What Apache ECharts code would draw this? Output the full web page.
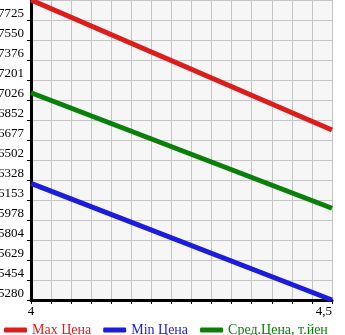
<!DOCTYPE html>
<html>
<head>
<meta charset="UTF-8">
<script src="https://cdn.jsdelivr.net/npm/echarts@6/dist/echarts.min.js"></script>
<style>html,body{margin:0;padding:0;background:#fff}#main{width:345px;height:335px}</style>
</head>
<body>
<div id="main"></div>
<script>
// data
var xValues = [4, 4.5];
var maxPrice = [7900, 6765];
var minPrice = [6299, 5280];
var avgPrice = [7090, 6081];
var seriesNames = ['Max Цена', 'Min Цена', 'Сред.Цена, т.йен'];
var seriesColors = ['#dd1c1c', '#1c1cdd', '#0a800a'];
var yTickLabels = ['5280', '5454', '5629', '5804', '5978', '6153', '6328', '6502',
  '6677', '6852', '7026', '7201', '7376', '7550', '7725'];
var xTickLabels = {'4': '4', '4.5': '4,5'};

var yMin = 5280, yMax = 7900;

function pairs(vals) {
  var out = [];
  for (var i = 0; i < xValues.length; i++) out.push([xValues[i], vals[i]]);
  return out;
}

var font = '"Liberation Serif", "DejaVu Serif", serif';
var allSeries = [maxPrice, minPrice, avgPrice].map(function (vals, i) {
  return {
    name: seriesNames[i],
    type: 'line',
    data: pairs(vals),
    symbol: 'none',
    clip: true,
    lineStyle: { color: seriesColors[i], width: 5 },
    itemStyle: { color: seriesColors[i] }
  };
});

var option = {
  animation: false,
  grid: {
    left: 31, right: 13, top: 0, bottom: 35,
    outerBoundsMode: 'none',
    containLabel: false,
    show: true, backgroundColor: '#f6f6f6', borderWidth: 0
  },
  legend: {
    left: -1, top: 318,
    icon: 'roundRect',
    itemWidth: 23, itemHeight: 5,
    itemGap: 12,
    data: seriesNames.map(function (n, i) {
      return { name: n, textStyle: { color: seriesColors[i] } };
    }),
    textStyle: { fontFamily: font, fontSize: 14 }
  },
  xAxis: {
    type: 'value',
    min: 4, max: 4.5, interval: 0.5 / 15,
    axisLine: { lineStyle: { color: '#000', width: 3 } },
    axisTick: { show: true, length: 4, lineStyle: { color: '#000' } },
    splitLine: { show: true, lineStyle: { color: '#c4c4c4', width: 1 } },
    axisLabel: {
      color: '#000', fontFamily: font, fontSize: 13, margin: 5,
      showMinLabel: true, showMaxLabel: true,
      alignMaxLabel: 'right',
      formatter: function (v) {
        var k = String(Math.round(v * 1000) / 1000);
        return xTickLabels[k] || '';
      }
    }
  },
  yAxis: {
    type: 'value',
    min: yMin, max: yMax, interval: (yMax - yMin) / 15,
    axisLine: { show: true, lineStyle: { color: '#000', width: 3 } },
    axisTick: { show: true, length: 4, lineStyle: { color: '#000' } },
    splitLine: { show: true, lineStyle: { color: '#c4c4c4', width: 1 } },
    axisLabel: {
      color: '#000', fontFamily: font, fontSize: 13, margin: 7,
      showMaxLabel: false,
      verticalAlign: 'bottom',
      formatter: function (v, i) { return yTickLabels[i] || ''; }
    }
  },
  series: allSeries
};

var chart = echarts.init(document.getElementById('main'));
chart.setOption(option);
</script>
</body>
</html>
